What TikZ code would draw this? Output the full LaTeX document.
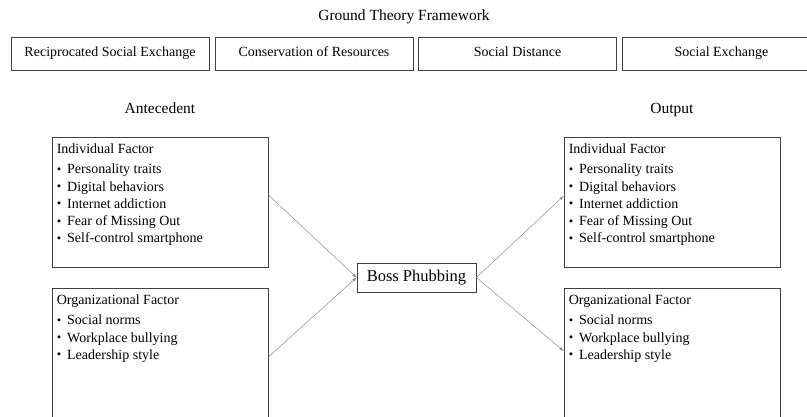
\documentclass[tikz,border=0pt]{standalone}
\usepackage{fontspec}
\setmainfont{Liberation Serif}
\usetikzlibrary{positioning}

\tikzset{
  theorybox/.style={draw=black!75, line width=0.8pt, minimum width=198pt,
    minimum height=33pt, inner sep=0pt, text height=10pt, text depth=3pt,
    font=\fontsize{14}{17}\selectfont},
  factorbox/.style={draw=black!75, line width=0.8pt, minimum width=216pt,
    minimum height=130pt, inner sep=0pt},
  factortext/.style={anchor=north west, align=left, inner sep=0pt,
    font=\fontsize{14}{17.25}\selectfont},
  heading/.style={text height=11pt, text depth=3pt, inner sep=0pt,
    font=\fontsize{15.5}{18}\selectfont},
  link/.style={->, draw=black!45, line width=0.5pt},
}
\newcommand{\itm}{\raisebox{0.5pt}{\fontsize{12.5}{12.5}\selectfont\textbullet}\hspace{6pt}}

\begin{document}
\begin{tikzpicture}[x=1pt, y=-1pt, >=latex]
    \useasboundingbox (0,0) rectangle (807,417);

    % theories
    \node[heading] (title) at (404,17) {Ground Theory Framework};
    \node[theorybox] (rse) at (110,53.5) {Reciprocated Social Exchange};
    \node[theorybox] (cor) at (314,53.5) {Conservation of Resources};
    \node[theorybox] (sd)  at (517.5,53.5) {Social Distance};
    \node[theorybox] (se)  at (721.5,53.5) {Social Exchange};

    % antecedent side
    \node[heading] (ant) at (160,110) {Antecedent};
    \node[factorbox] (antInd) at (160,202) {};
    \node[factorbox] (antOrg) at (160,353) {};
    \node[factortext] (antIndTxt) at ([shift={(5pt,-7pt)}]antInd.north west)
      {Individual Factor\\[3pt] \itm Personality traits\\ \itm Digital behaviors\\
       \itm Internet addiction\\ \itm Fear of Missing Out\\ \itm Self-control smartphone};
    \node[factortext] (antOrgTxt) at ([shift={(5pt,-7pt)}]antOrg.north west)
      {Organizational Factor\\[3pt] \itm Social norms\\ \itm Workplace bullying\\
       \itm Leadership style};

    % output side
    \node[heading] (out) at (672,110) {Output};
    \node[factorbox] (outInd) at (672,202) {};
    \node[factorbox] (outOrg) at (672,353) {};
    \node[factortext] (outIndTxt) at ([shift={(5pt,-7pt)}]outInd.north west)
      {Individual Factor\\[3pt] \itm Personality traits\\ \itm Digital behaviors\\
       \itm Internet addiction\\ \itm Fear of Missing Out\\ \itm Self-control smartphone};
    \node[factortext] (outOrgTxt) at ([shift={(5pt,-7pt)}]outOrg.north west)
      {Organizational Factor\\[3pt] \itm Social norms\\ \itm Workplace bullying\\
       \itm Leadership style};

    \node[draw=black!75, line width=0.8pt, minimum width=119pt, minimum height=29pt,
      inner sep=0pt, text height=11.5pt, text depth=3.5pt,
      font=\fontsize{16.5}{19}\selectfont] (boss) at (416.5,277.5) {Boss Phubbing};

    \draw[link] ([yshift=7pt]antInd.east) -- (boss.west);
    \draw[link] ([yshift=-4pt]antOrg.east) -- (boss.west);
    \draw[link] (boss.east) -- ([yshift=6pt]outInd.west);
    \draw[link] (boss.east) -- ([yshift=2pt]outOrg.west);
\end{tikzpicture}
\end{document}
